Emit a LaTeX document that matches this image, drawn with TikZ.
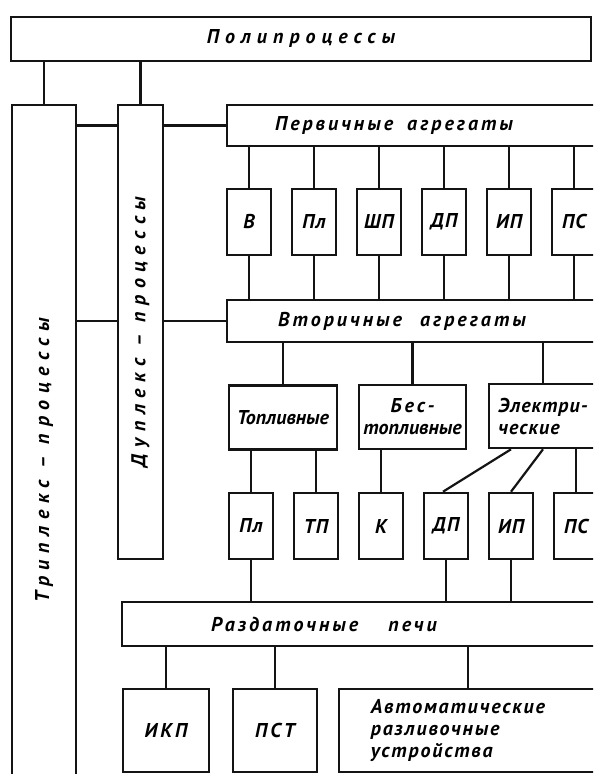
\documentclass[tikz,border=0pt]{standalone}
\usepackage{fontspec}
\setmainfont{PT Sans}
\newfontfamily\gost{PT Sans}
\newfontfamily\gostnarrow{PT Sans}[LetterSpace=5]
\newfontfamily\gostauto{PT Sans}[LetterSpace=9]
\newfontfamily\gostmid{PT Sans}[LetterSpace=15]
\newfontfamily\gostwide{PT Sans}[LetterSpace=30]
\newfontfamily\gostvert{PT Sans}[LetterSpace=33]
\definecolor{cInk}{HTML}{141414}

\begin{document}
\begin{tikzpicture}[
    x=0.5pt, y=-0.5pt, font=\gost\bfseries\itshape\fontsize{10}{11}\selectfont,
    box/.style={draw=cInk, line width=1.3pt, fill=white, inner sep=0pt},
    bar/.style={box, minimum width=185pt},
    unit/.style={box, minimum width=22pt, minimum height=33pt,
                 font=\gostnarrow\bfseries\itshape\fontsize{10}{11}\selectfont},
    grp/.style={box, minimum width=54pt, minimum height=32pt, align=center},
    wire/.style={cInk, line width=1.1pt},
    txt/.style={font=\gostmid\bfseries\itshape\fontsize{10}{11}\selectfont},
    vtxt/.style={font=\gostvert\bfseries\itshape\fontsize{10}{11}\selectfont, rotate=90},
]
\useasboundingbox (0,0) rectangle (593,774);
\clip (0,0) rectangle (593,774);

% ===========================================================================
% Полипроцессы, колонки триплекс и дуплекс
% ===========================================================================
\node[box, minimum width=290pt, minimum height=22pt,
      font=\gostwide\bfseries\itshape\fontsize{10}{11}\selectfont] (poly) at (301,39) {Полипроцессы};

\node[box, minimum width=32pt, minimum height=355pt,
      label={[vtxt]center:Триплекс – процессы}] (triplex) at (44,460) {};
\node[box, minimum width=22.5pt, minimum height=227pt,
      label={[vtxt]center:Дуплекс – процессы}] (duplex) at (140.5,332) {};

\draw[wire] (poly.south -| triplex.north) -- (triplex.north);
\draw[wire] (poly.south -| duplex.north) -- (duplex.north);

% ===========================================================================
% Первичные и вторичные агрегаты
% ===========================================================================
\node[bar, minimum height=20.5pt,
      label={[txt, xshift=-9pt]center:Первичные\hspace{3pt} агрегаты}] (prim) at (412,125.5) {};

\foreach \t [count=\i] in {В, Пл, ШП, ДП, ИП, ПС} {
    \node[unit] (p\i) at ({184+65*\i},222) {\t};
}

\node[bar, minimum height=21pt,
      label={[txt, xshift=-5pt]center:Вторичные\hspace{5pt} агрегаты}] (sec) at (412,321) {};

\foreach \i in {1,...,6} {
    \draw[wire] (prim.south -| p\i.north) -- (p\i.north);
    \draw[wire] (p\i.south) -- (sec.north -| p\i.south);
}

% ----- связи с колонками процессов -----
\draw[wire] (triplex.east |- prim.west) -- (duplex.west |- prim.west);
\draw[wire] (duplex.east |- prim.west) -- (prim.west);
\draw[wire] (triplex.east |- sec.west) -- (duplex.west |- sec.west);
\draw[wire] (duplex.east |- sec.west) -- (sec.west);

% ===========================================================================
% Группы вторичных агрегатов
% ===========================================================================
\node[grp] (fuel) at (283,417.5) {Топливные};
\node[grp, minimum width=53.5pt] (nofuel) at (412.5,417) {{\gostmid Бес-}\\топливные};
\node[grp, align=left, font=\gostnarrow\bfseries\itshape\fontsize{10}{11}\selectfont]
      (elec) at (543,416) {Электри-\\ческие};

\foreach \g in {fuel, nofuel, elec}
    \draw[wire] (sec.south -| \g.north) -- (\g.north);

\foreach \t [count=\i] in {Пл, ТП, К, ДП, ИП, ПС} {
    \node[unit] (s\i) at ({186+65*\i},526) {\t};
}

\draw[wire] (fuel.south -| s1.north) -- (s1.north);
\draw[wire] (fuel.south -| s2.north) -- (s2.north);
\draw[wire] (nofuel.south -| s3.north) -- (s3.north);
\draw[wire] ([xshift=-16pt]elec.south) -- ([xshift=-1.5pt]s4.north);
\draw[wire] (elec.south) -- (s5.north);
\draw[wire] (elec.south -| s6.north) -- (s6.north);

% ===========================================================================
% Раздаточные печи и разливка
% ===========================================================================
\node[box, minimum width=237.5pt, minimum height=22pt,
      label={[txt, xshift=-17.75pt]center:Раздаточные\hspace{11pt} печи}] (dist) at (359.5,624) {};

\foreach \i in {1,4,5}
    \draw[wire] (s\i.south) -- (dist.north -| s\i.south);

\node[box, minimum width=43pt, minimum height=41.5pt, txt] (ikp) at (166,730.5) {ИКП};
\node[box, minimum width=42pt, minimum height=41.5pt, txt] (pst) at (275,730.5) {ПСТ};
\node[box, minimum width=129pt, minimum height=41.5pt,
      label={[align=left, xshift=-5pt, font=\gostauto\bfseries\itshape\fontsize{10}{11}\selectfont]
             center:Автоматические\\разливочные\\устройства}]
      (auto) at (468,730.5) {};

\foreach \b in {ikp, pst, auto}
    \draw[wire] (dist.south -| \b.north) -- (\b.north);

\end{tikzpicture}
\end{document}
